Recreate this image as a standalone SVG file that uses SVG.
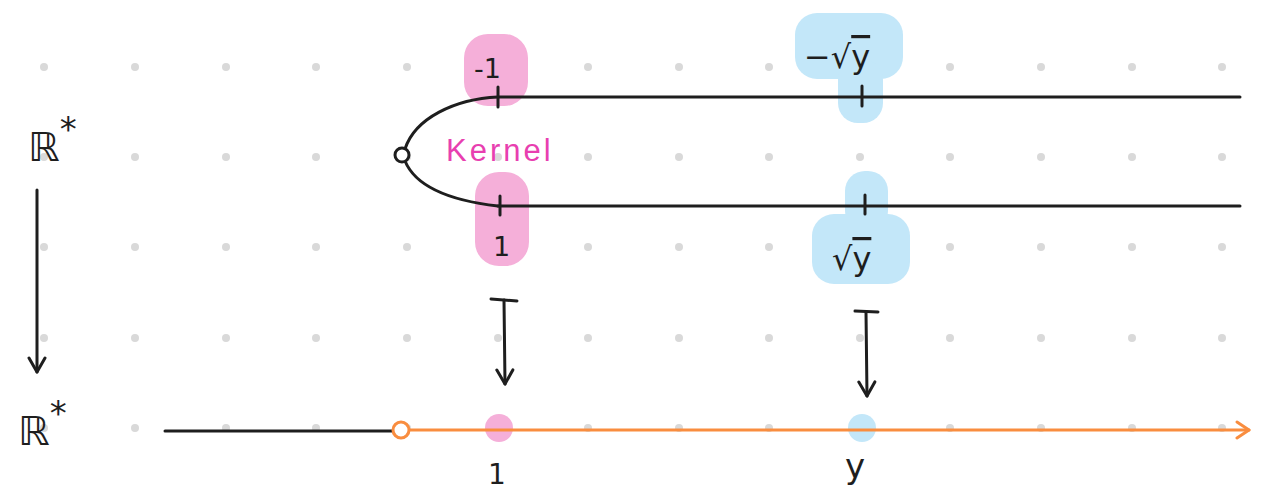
<svg xmlns="http://www.w3.org/2000/svg" width="1265" height="493" viewBox="0 0 1265 493">
<defs>
<style>
.dot{fill:#d9d9d9}
.ln{fill:none;stroke:#1e1e1e;stroke-width:3;stroke-linecap:round;stroke-linejoin:round}
.or{fill:none;stroke:#f98d3f;stroke-width:3;stroke-linecap:round;stroke-linejoin:round}
.pink{fill:#f5afd9}
.blue{fill:#c3e7f9}
.t{font-family:"DejaVu Sans","Liberation Sans",sans-serif;fill:#1e1e1e}
.k{font-family:"Liberation Sans",sans-serif;fill:#e83fb0}
</style>
<marker id="ah" viewBox="0 0 20 20" refX="18" refY="10" markerWidth="20" markerHeight="20" markerUnits="userSpaceOnUse" orient="auto">
<path d="M4 2 L18 10 L4 18" fill="none" stroke="#1e1e1e" stroke-width="3" stroke-linecap="round" stroke-linejoin="round"/>
</marker>
<marker id="aho" viewBox="0 0 20 20" refX="18" refY="10" markerWidth="20" markerHeight="20" markerUnits="userSpaceOnUse" orient="auto">
<path d="M6 2 L18 10 L6 18" fill="none" stroke="#f98d3f" stroke-width="3" stroke-linecap="round" stroke-linejoin="round"/>
</marker>
</defs>
<rect width="1265" height="493" fill="#ffffff"/>
<g id="grid">
<g id="row1">
<circle class="dot" cx="44" cy="67" r="4"/><circle class="dot" cx="135" cy="67" r="4"/><circle class="dot" cx="226" cy="67" r="4"/><circle class="dot" cx="316" cy="67" r="4"/><circle class="dot" cx="407" cy="67" r="4"/><circle class="dot" cx="498" cy="67" r="4"/><circle class="dot" cx="588" cy="67" r="4"/><circle class="dot" cx="679" cy="67" r="4"/><circle class="dot" cx="769" cy="67" r="4"/><circle class="dot" cx="860" cy="67" r="4"/><circle class="dot" cx="950" cy="67" r="4"/><circle class="dot" cx="1041" cy="67" r="4"/><circle class="dot" cx="1132" cy="67" r="4"/><circle class="dot" cx="1222" cy="67" r="4"/>
</g>
<g id="row2">
<circle class="dot" cx="44" cy="157" r="4"/><circle class="dot" cx="135" cy="157" r="4"/><circle class="dot" cx="226" cy="157" r="4"/><circle class="dot" cx="316" cy="157" r="4"/><circle class="dot" cx="407" cy="157" r="4"/><circle class="dot" cx="498" cy="157" r="4"/><circle class="dot" cx="588" cy="157" r="4"/><circle class="dot" cx="679" cy="157" r="4"/><circle class="dot" cx="769" cy="157" r="4"/><circle class="dot" cx="860" cy="157" r="4"/><circle class="dot" cx="950" cy="157" r="4"/><circle class="dot" cx="1041" cy="157" r="4"/><circle class="dot" cx="1132" cy="157" r="4"/><circle class="dot" cx="1222" cy="157" r="4"/>
</g>
<g id="row3">
<circle class="dot" cx="44" cy="247" r="4"/><circle class="dot" cx="135" cy="247" r="4"/><circle class="dot" cx="226" cy="247" r="4"/><circle class="dot" cx="316" cy="247" r="4"/><circle class="dot" cx="407" cy="247" r="4"/><circle class="dot" cx="498" cy="247" r="4"/><circle class="dot" cx="588" cy="247" r="4"/><circle class="dot" cx="679" cy="247" r="4"/><circle class="dot" cx="769" cy="247" r="4"/><circle class="dot" cx="860" cy="247" r="4"/><circle class="dot" cx="950" cy="247" r="4"/><circle class="dot" cx="1041" cy="247" r="4"/><circle class="dot" cx="1132" cy="247" r="4"/><circle class="dot" cx="1222" cy="247" r="4"/>
</g>
<g id="row4">
<circle class="dot" cx="44" cy="338" r="4"/><circle class="dot" cx="135" cy="338" r="4"/><circle class="dot" cx="226" cy="338" r="4"/><circle class="dot" cx="316" cy="338" r="4"/><circle class="dot" cx="407" cy="338" r="4"/><circle class="dot" cx="498" cy="338" r="4"/><circle class="dot" cx="588" cy="338" r="4"/><circle class="dot" cx="679" cy="338" r="4"/><circle class="dot" cx="769" cy="338" r="4"/><circle class="dot" cx="860" cy="338" r="4"/><circle class="dot" cx="950" cy="338" r="4"/><circle class="dot" cx="1041" cy="338" r="4"/><circle class="dot" cx="1132" cy="338" r="4"/><circle class="dot" cx="1222" cy="338" r="4"/>
</g>
<g id="row5">
<circle class="dot" cx="44" cy="428" r="4"/><circle class="dot" cx="135" cy="428" r="4"/><circle class="dot" cx="226" cy="428" r="4"/><circle class="dot" cx="316" cy="428" r="4"/><circle class="dot" cx="407" cy="428" r="4"/><circle class="dot" cx="498" cy="428" r="4"/><circle class="dot" cx="588" cy="428" r="4"/><circle class="dot" cx="679" cy="428" r="4"/><circle class="dot" cx="769" cy="428" r="4"/><circle class="dot" cx="860" cy="428" r="4"/><circle class="dot" cx="950" cy="428" r="4"/><circle class="dot" cx="1041" cy="428" r="4"/><circle class="dot" cx="1132" cy="428" r="4"/><circle class="dot" cx="1222" cy="428" r="4"/>
</g>
</g>
<g id="highlights">
<rect id="hl-neg1" class="pink" x="464" y="34" width="64" height="72" rx="24"/>
<rect id="hl-pos1" class="pink" x="475" y="172" width="54" height="94" rx="24"/>
<g id="hl-negsqrt">
<rect class="blue" x="795" y="13" width="108" height="66" rx="22"/>
<rect class="blue" x="838" y="60" width="45" height="63" rx="20"/>
</g>
<g id="hl-sqrt">
<rect class="blue" x="845" y="171" width="43" height="60" rx="20"/>
<rect class="blue" x="812" y="214" width="98" height="70" rx="22"/>
</g>
<circle id="hl-one" class="pink" cx="499" cy="428" r="14"/>
<circle id="hl-y" class="blue" cx="862" cy="428" r="14"/>
</g>
<g id="connectors">
<path class="ln" d="M498 97 L1240 97"/>
<path class="ln" d="M498 206 L1240 206"/>
<path class="ln" d="M498 97 C455 99 415 118 405 149"/>
<path class="ln" d="M405 161 C415 185 445 200 498 206"/>
<path class="ln" d="M498 87 L498 107"/>
<path class="ln" d="M500 196 L500 215"/>
<path class="ln" d="M862 86 L862 106"/>
<path class="ln" d="M865 195 L865 214"/>
<path class="ln" d="M37 190 L37 372" marker-end="url(#ah)"/>
<path class="ln" d="M491 299 L517 301"/>
<path class="ln" d="M504 300 L505 384" marker-end="url(#ah)"/>
<path class="ln" d="M855 311 L878 312"/>
<path class="ln" d="M866 312 L867 396" marker-end="url(#ah)"/>
<path class="ln" d="M165 431 L393 431"/>
<path class="or" d="M409 430 L1249 430" marker-end="url(#aho)"/>
</g>
<g id="node-origin-top">
<circle cx="402" cy="155" r="7" fill="#ffffff" stroke="#1e1e1e" stroke-width="3"/>
</g>
<g id="node-origin-bottom">
<circle cx="401" cy="430" r="8" fill="#ffffff" stroke="#f98d3f" stroke-width="3"/>
</g>
<g id="labels">
<text id="lbl-R-top" class="t" x="28" y="161" font-size="40">ℝ<tspan font-size="34" dy="-20">*</tspan></text>
<text id="lbl-R-bottom" class="t" x="18" y="445" font-size="40">ℝ<tspan font-size="34" dy="-20">*</tspan></text>
<text id="lbl-kernel" class="k" x="446" y="161" font-size="31" letter-spacing="3">Kernel</text>
<text id="lbl-neg1" class="t" x="474" y="78" font-size="27">-1</text>
<text id="lbl-pos1" class="t" x="493" y="256" font-size="27">1</text>
<text id="lbl-negsqrt" class="t" x="804" y="68" font-size="32">−√<tspan text-decoration="overline">y</tspan></text>
<text id="lbl-sqrt" class="t" x="832" y="270" font-size="32">√<tspan text-decoration="overline">y</tspan></text>
<text id="lbl-one" class="t" x="488" y="484" font-size="28">1</text>
<text id="lbl-y" class="t" x="845" y="478" font-size="34">y</text>
</g>
</svg>
